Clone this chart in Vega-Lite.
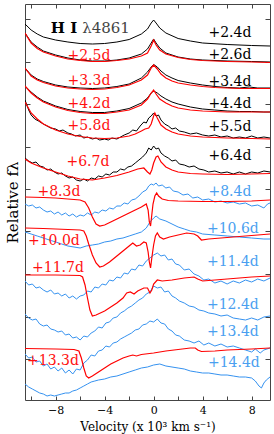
{
"$schema":"https://vega.github.io/schema/vega-lite/v6.json",
"width":245,"height":396,
"autosize":{"type":"none"},
"padding":{"left":25,"top":4,"right":4,"bottom":34},
"config":{"view":{"stroke":"#444","strokeWidth":1},"font":"DejaVu Serif",
 "axis":{"grid":false,"domain":false,"tickColor":"#444","labelFont":"DejaVu Serif","titleFont":"DejaVu Serif","titleFontWeight":"normal","labelColor":"#000","titleColor":"#000"}},
"datasets":{
"black":[
{"s":"+2.4d","v":-10.5,"f":37.6},{"s":"+2.4d","v":-10,"f":37.0},{"s":"+2.4d","v":-9.5,"f":36.6},{"s":"+2.4d","v":-9,"f":36.3},{"s":"+2.4d","v":-8,"f":36.0},{"s":"+2.4d","v":-7,"f":35.8},{"s":"+2.4d","v":-6,"f":35.65},{"s":"+2.4d","v":-5,"f":35.6},{"s":"+2.4d","v":-4,"f":35.65},{"s":"+2.4d","v":-3,"f":35.8},{"s":"+2.4d","v":-2,"f":36.05},{"s":"+2.4d","v":-1,"f":36.6},{"s":"+2.4d","v":-0.5,"f":37.1},{"s":"+2.4d","v":-0.2,"f":37.7},{"s":"+2.4d","v":0,"f":38.0},{"s":"+2.4d","v":0.2,"f":37.7},{"s":"+2.4d","v":0.5,"f":37.2},{"s":"+2.4d","v":1,"f":36.7},{"s":"+2.4d","v":2,"f":36.15},{"s":"+2.4d","v":3,"f":35.9},{"s":"+2.4d","v":4,"f":35.7},{"s":"+2.4d","v":6,"f":35.55},{"s":"+2.4d","v":8,"f":35.45},{"s":"+2.4d","v":9.5,"f":35.4},
{"s":"+2.6d","v":-10.5,"f":36.7},{"s":"+2.6d","v":-10,"f":35.8},{"s":"+2.6d","v":-9.5,"f":35.3},{"s":"+2.6d","v":-9,"f":34.9},{"s":"+2.6d","v":-8,"f":34.5},{"s":"+2.6d","v":-7,"f":34.2},{"s":"+2.6d","v":-6,"f":34.0},{"s":"+2.6d","v":-5,"f":33.9},{"s":"+2.6d","v":-4,"f":33.9},{"s":"+2.6d","v":-3,"f":34.0},{"s":"+2.6d","v":-2,"f":34.2},{"s":"+2.6d","v":-1,"f":34.6},{"s":"+2.6d","v":-0.5,"f":35.1},{"s":"+2.6d","v":-0.2,"f":35.7},{"s":"+2.6d","v":0,"f":36.1},{"s":"+2.6d","v":0.2,"f":35.7},{"s":"+2.6d","v":0.5,"f":35.2},{"s":"+2.6d","v":1,"f":34.7},{"s":"+2.6d","v":2,"f":34.3},{"s":"+2.6d","v":3,"f":34.1},{"s":"+2.6d","v":4,"f":34.0},{"s":"+2.6d","v":6,"f":33.9},{"s":"+2.6d","v":8,"f":33.85},{"s":"+2.6d","v":9.5,"f":33.8},
{"s":"+3.4d","v":-10.5,"f":33.2},{"s":"+3.4d","v":-10,"f":32.5},{"s":"+3.4d","v":-9.5,"f":32.1},{"s":"+3.4d","v":-9,"f":31.85},{"s":"+3.4d","v":-8,"f":31.5},{"s":"+3.4d","v":-7,"f":31.3},{"s":"+3.4d","v":-6,"f":31.2},{"s":"+3.4d","v":-5,"f":31.15},{"s":"+3.4d","v":-4,"f":31.2},{"s":"+3.4d","v":-3,"f":31.35},{"s":"+3.4d","v":-2,"f":31.6},{"s":"+3.4d","v":-1,"f":32.2},{"s":"+3.4d","v":-0.5,"f":32.8},{"s":"+3.4d","v":-0.2,"f":33.3},{"s":"+3.4d","v":0,"f":33.55},{"s":"+3.4d","v":0.3,"f":33.3},{"s":"+3.4d","v":0.6,"f":32.9},{"s":"+3.4d","v":1,"f":32.5},{"s":"+3.4d","v":1.5,"f":32.2},{"s":"+3.4d","v":2,"f":31.95},{"s":"+3.4d","v":3,"f":31.7},{"s":"+3.4d","v":4,"f":31.5},{"s":"+3.4d","v":5,"f":31.35},{"s":"+3.4d","v":6,"f":31.25},{"s":"+3.4d","v":7,"f":31.2},{"s":"+3.4d","v":7.8,"f":31.3},{"s":"+3.4d","v":8.5,"f":31.2},{"s":"+3.4d","v":9.5,"f":31.2},
{"s":"+4.4d","v":-10.5,"f":31.4},{"s":"+4.4d","v":-10,"f":30.8},{"s":"+4.4d","v":-9.5,"f":30.3},{"s":"+4.4d","v":-9,"f":29.9},{"s":"+4.4d","v":-8,"f":29.4},{"s":"+4.4d","v":-7,"f":29.05},{"s":"+4.4d","v":-6,"f":28.85},{"s":"+4.4d","v":-5,"f":28.75},{"s":"+4.4d","v":-4,"f":28.75},{"s":"+4.4d","v":-3,"f":28.9},{"s":"+4.4d","v":-2,"f":29.15},{"s":"+4.4d","v":-1,"f":29.7},{"s":"+4.4d","v":-0.5,"f":30.2},{"s":"+4.4d","v":-0.2,"f":30.7},{"s":"+4.4d","v":0,"f":30.9},{"s":"+4.4d","v":0.3,"f":30.7},{"s":"+4.4d","v":0.6,"f":30.4},{"s":"+4.4d","v":1,"f":30.1},{"s":"+4.4d","v":1.5,"f":29.8},{"s":"+4.4d","v":2,"f":29.6},{"s":"+4.4d","v":3,"f":29.3},{"s":"+4.4d","v":4,"f":29.1},{"s":"+4.4d","v":5,"f":29.0},{"s":"+4.4d","v":6,"f":28.9},{"s":"+4.4d","v":7,"f":28.85},{"s":"+4.4d","v":8,"f":28.85},{"s":"+4.4d","v":9,"f":28.8},{"s":"+4.4d","v":9.5,"f":28.8},
{"s":"+5.5d","v":-10.5,"f":30.0},{"s":"+5.5d","v":-10.2,"f":29.0},{"s":"+5.5d","v":-10,"f":28.5},{"s":"+5.5d","v":-9.7,"f":28.1},{"s":"+5.5d","v":-9.4,"f":27.9},{"s":"+5.5d","v":-9,"f":27.6},{"s":"+5.5d","v":-8.7,"f":27.4},{"s":"+5.5d","v":-8.4,"f":27.2},{"s":"+5.5d","v":-8,"f":27.1},{"s":"+5.5d","v":-7.7,"f":26.9},{"s":"+5.5d","v":-7.4,"f":27.0},{"s":"+5.5d","v":-7,"f":26.7},{"s":"+5.5d","v":-6.7,"f":26.6},{"s":"+5.5d","v":-6.4,"f":26.4},{"s":"+5.5d","v":-6,"f":26.5},{"s":"+5.5d","v":-5.7,"f":26.2},{"s":"+5.5d","v":-5.4,"f":26.3},{"s":"+5.5d","v":-5,"f":26.1},{"s":"+5.5d","v":-4.7,"f":26.2},{"s":"+5.5d","v":-4.4,"f":26.0},{"s":"+5.5d","v":-4,"f":26.1},{"s":"+5.5d","v":-3.7,"f":26.0},{"s":"+5.5d","v":-3.4,"f":26.2},{"s":"+5.5d","v":-3,"f":26.1},{"s":"+5.5d","v":-2.7,"f":26.3},{"s":"+5.5d","v":-2.4,"f":26.5},{"s":"+5.5d","v":-2,"f":26.7},{"s":"+5.5d","v":-1.7,"f":27.0},{"s":"+5.5d","v":-1.4,"f":26.9},{"s":"+5.5d","v":-1.1,"f":27.4},{"s":"+5.5d","v":-0.8,"f":27.8},{"s":"+5.5d","v":-0.6,"f":27.7},{"s":"+5.5d","v":-0.4,"f":28.2},{"s":"+5.5d","v":-0.2,"f":28.4},{"s":"+5.5d","v":0,"f":28.7},{"s":"+5.5d","v":0.2,"f":28.4},{"s":"+5.5d","v":0.4,"f":28.5},{"s":"+5.5d","v":0.6,"f":28.0},{"s":"+5.5d","v":0.9,"f":27.6},{"s":"+5.5d","v":1.2,"f":27.4},{"s":"+5.5d","v":1.5,"f":27.1},{"s":"+5.5d","v":1.8,"f":27.2},{"s":"+5.5d","v":2.1,"f":26.9},{"s":"+5.5d","v":2.5,"f":26.8},{"s":"+5.5d","v":3,"f":26.6},{"s":"+5.5d","v":3.5,"f":26.7},{"s":"+5.5d","v":4,"f":26.5},{"s":"+5.5d","v":4.5,"f":26.4},{"s":"+5.5d","v":5,"f":26.5},{"s":"+5.5d","v":5.5,"f":26.3},{"s":"+5.5d","v":6,"f":26.4},{"s":"+5.5d","v":6.5,"f":26.2},{"s":"+5.5d","v":7,"f":26.3},{"s":"+5.5d","v":7.5,"f":26.2},{"s":"+5.5d","v":8,"f":26.4},{"s":"+5.5d","v":8.5,"f":26.2},{"s":"+5.5d","v":9,"f":26.3},{"s":"+5.5d","v":9.5,"f":26.2},
{"s":"+6.4d","v":-10.5,"f":24.2},{"s":"+6.4d","v":-10.2,"f":23.9},{"s":"+6.4d","v":-9.9,"f":23.7},{"s":"+6.4d","v":-9.6,"f":23.8},{"s":"+6.4d","v":-9.3,"f":23.4},{"s":"+6.4d","v":-9,"f":23.3},{"s":"+6.4d","v":-8.7,"f":23.0},{"s":"+6.4d","v":-8.4,"f":23.1},{"s":"+6.4d","v":-8.1,"f":22.8},{"s":"+6.4d","v":-7.8,"f":22.6},{"s":"+6.4d","v":-7.5,"f":22.7},{"s":"+6.4d","v":-7.2,"f":22.4},{"s":"+6.4d","v":-6.9,"f":22.2},{"s":"+6.4d","v":-6.6,"f":22.3},{"s":"+6.4d","v":-6.3,"f":22.0},{"s":"+6.4d","v":-6,"f":21.9},{"s":"+6.4d","v":-5.7,"f":22.1},{"s":"+6.4d","v":-5.4,"f":21.9},{"s":"+6.4d","v":-5.1,"f":22.2},{"s":"+6.4d","v":-4.8,"f":22.1},{"s":"+6.4d","v":-4.5,"f":22.4},{"s":"+6.4d","v":-4.2,"f":22.3},{"s":"+6.4d","v":-3.9,"f":22.6},{"s":"+6.4d","v":-3.6,"f":22.5},{"s":"+6.4d","v":-3.3,"f":22.8},{"s":"+6.4d","v":-3,"f":22.8},{"s":"+6.4d","v":-2.7,"f":23.1},{"s":"+6.4d","v":-2.4,"f":23.0},{"s":"+6.4d","v":-2.1,"f":23.3},{"s":"+6.4d","v":-1.8,"f":23.4},{"s":"+6.4d","v":-1.5,"f":23.7},{"s":"+6.4d","v":-1.2,"f":24.0},{"s":"+6.4d","v":-0.9,"f":24.3},{"s":"+6.4d","v":-0.6,"f":24.7},{"s":"+6.4d","v":-0.4,"f":25.2},{"s":"+6.4d","v":-0.2,"f":25.0},{"s":"+6.4d","v":0,"f":25.4},{"s":"+6.4d","v":0.2,"f":25.1},{"s":"+6.4d","v":0.4,"f":25.2},{"s":"+6.4d","v":0.6,"f":24.7},{"s":"+6.4d","v":0.9,"f":24.4},{"s":"+6.4d","v":1.2,"f":24.2},{"s":"+6.4d","v":1.5,"f":23.9},{"s":"+6.4d","v":1.8,"f":24.0},{"s":"+6.4d","v":2.1,"f":23.6},{"s":"+6.4d","v":2.5,"f":23.5},{"s":"+6.4d","v":2.9,"f":23.3},{"s":"+6.4d","v":3.3,"f":23.4},{"s":"+6.4d","v":3.7,"f":23.1},{"s":"+6.4d","v":4.1,"f":23.0},{"s":"+6.4d","v":4.5,"f":22.8},{"s":"+6.4d","v":5,"f":22.9},{"s":"+6.4d","v":5.5,"f":22.7},{"s":"+6.4d","v":6,"f":22.8},{"s":"+6.4d","v":6.5,"f":22.6},{"s":"+6.4d","v":7,"f":22.8},{"s":"+6.4d","v":7.5,"f":22.6},{"s":"+6.4d","v":8,"f":22.8},{"s":"+6.4d","v":8.5,"f":22.7},{"s":"+6.4d","v":9,"f":22.9},{"s":"+6.4d","v":9.5,"f":22.8}
],
"red":[
{"s":"+2.5d","v":-10.5,"f":36.7},{"s":"+2.5d","v":-10,"f":35.7},{"s":"+2.5d","v":-9.5,"f":35.15},{"s":"+2.5d","v":-9,"f":34.8},{"s":"+2.5d","v":-8,"f":34.4},{"s":"+2.5d","v":-7,"f":34.1},{"s":"+2.5d","v":-6,"f":33.95},{"s":"+2.5d","v":-5,"f":33.85},{"s":"+2.5d","v":-4,"f":33.85},{"s":"+2.5d","v":-3,"f":33.95},{"s":"+2.5d","v":-2,"f":34.1},{"s":"+2.5d","v":-1,"f":34.4},{"s":"+2.5d","v":-0.5,"f":34.7},{"s":"+2.5d","v":-0.2,"f":35.4},{"s":"+2.5d","v":0,"f":36.0},{"s":"+2.5d","v":0.2,"f":35.5},{"s":"+2.5d","v":0.5,"f":35.0},{"s":"+2.5d","v":1,"f":34.6},{"s":"+2.5d","v":2,"f":34.25},{"s":"+2.5d","v":3,"f":34.05},{"s":"+2.5d","v":4,"f":33.95},{"s":"+2.5d","v":6,"f":33.85},{"s":"+2.5d","v":8,"f":33.8},{"s":"+2.5d","v":9.5,"f":33.75},
{"s":"+3.3d","v":-10.5,"f":33.2},{"s":"+3.3d","v":-10,"f":32.4},{"s":"+3.3d","v":-9.5,"f":32.0},{"s":"+3.3d","v":-9,"f":31.75},{"s":"+3.3d","v":-8,"f":31.4},{"s":"+3.3d","v":-7,"f":31.2},{"s":"+3.3d","v":-6,"f":31.1},{"s":"+3.3d","v":-5,"f":31.05},{"s":"+3.3d","v":-4,"f":31.1},{"s":"+3.3d","v":-3,"f":31.25},{"s":"+3.3d","v":-2,"f":31.5},{"s":"+3.3d","v":-1,"f":32.0},{"s":"+3.3d","v":-0.5,"f":32.5},{"s":"+3.3d","v":-0.2,"f":33.2},{"s":"+3.3d","v":0,"f":33.5},{"s":"+3.3d","v":0.3,"f":33.1},{"s":"+3.3d","v":0.6,"f":32.6},{"s":"+3.3d","v":1,"f":32.2},{"s":"+3.3d","v":1.5,"f":31.9},{"s":"+3.3d","v":2,"f":31.7},{"s":"+3.3d","v":3,"f":31.5},{"s":"+3.3d","v":4,"f":31.35},{"s":"+3.3d","v":5,"f":31.25},{"s":"+3.3d","v":6,"f":31.2},{"s":"+3.3d","v":7,"f":31.15},{"s":"+3.3d","v":9.5,"f":31.15},
{"s":"+4.2d","v":-10.5,"f":31.4},{"s":"+4.2d","v":-10,"f":30.7},{"s":"+4.2d","v":-9.5,"f":30.2},{"s":"+4.2d","v":-9,"f":29.8},{"s":"+4.2d","v":-8,"f":29.3},{"s":"+4.2d","v":-7,"f":28.95},{"s":"+4.2d","v":-6,"f":28.75},{"s":"+4.2d","v":-5,"f":28.65},{"s":"+4.2d","v":-4,"f":28.65},{"s":"+4.2d","v":-3,"f":28.8},{"s":"+4.2d","v":-2,"f":29.0},{"s":"+4.2d","v":-1,"f":29.5},{"s":"+4.2d","v":-0.5,"f":30.1},{"s":"+4.2d","v":-0.2,"f":30.7},{"s":"+4.2d","v":0,"f":31.0},{"s":"+4.2d","v":0.2,"f":30.6},{"s":"+4.2d","v":0.5,"f":30.1},{"s":"+4.2d","v":1,"f":29.7},{"s":"+4.2d","v":1.5,"f":29.4},{"s":"+4.2d","v":2,"f":29.2},{"s":"+4.2d","v":3,"f":29.0},{"s":"+4.2d","v":4,"f":28.9},{"s":"+4.2d","v":5,"f":28.85},{"s":"+4.2d","v":6,"f":28.8},{"s":"+4.2d","v":9.5,"f":28.8},
{"s":"+5.8d","v":-10.5,"f":29.8},{"s":"+5.8d","v":-10,"f":28.7},{"s":"+5.8d","v":-9.5,"f":28.1},{"s":"+5.8d","v":-9,"f":27.6},{"s":"+5.8d","v":-8,"f":27.0},{"s":"+5.8d","v":-7,"f":26.6},{"s":"+5.8d","v":-6,"f":26.35},{"s":"+5.8d","v":-5,"f":26.2},{"s":"+5.8d","v":-4,"f":26.15},{"s":"+5.8d","v":-3,"f":26.2},{"s":"+5.8d","v":-2,"f":26.4},{"s":"+5.8d","v":-1.5,"f":26.6},{"s":"+5.8d","v":-1,"f":26.9},{"s":"+5.8d","v":-0.7,"f":27.1},{"s":"+5.8d","v":-0.4,"f":27.2},{"s":"+5.8d","v":-0.2,"f":27.6},{"s":"+5.8d","v":0,"f":28.4},{"s":"+5.8d","v":0.1,"f":28.7},{"s":"+5.8d","v":0.3,"f":28.2},{"s":"+5.8d","v":0.6,"f":27.5},{"s":"+5.8d","v":1,"f":27.1},{"s":"+5.8d","v":1.5,"f":26.8},{"s":"+5.8d","v":2,"f":26.6},{"s":"+5.8d","v":3,"f":26.4},{"s":"+5.8d","v":4,"f":26.3},{"s":"+5.8d","v":6,"f":26.2},{"s":"+5.8d","v":8,"f":26.15},{"s":"+5.8d","v":9.5,"f":26.1},
{"s":"+6.7d","v":-10.5,"f":24.1},{"s":"+6.7d","v":-10,"f":23.7},{"s":"+6.7d","v":-9,"f":23.2},{"s":"+6.7d","v":-8,"f":22.8},{"s":"+6.7d","v":-7,"f":22.4},{"s":"+6.7d","v":-6,"f":22.1},{"s":"+6.7d","v":-5,"f":22.0},{"s":"+6.7d","v":-4,"f":22.2},{"s":"+6.7d","v":-3,"f":22.45},{"s":"+6.7d","v":-2,"f":22.8},{"s":"+6.7d","v":-1.3,"f":23.1},{"s":"+6.7d","v":-0.8,"f":23.2},{"s":"+6.7d","v":-0.5,"f":22.8},{"s":"+6.7d","v":-0.3,"f":22.6},{"s":"+6.7d","v":-0.15,"f":23.0},{"s":"+6.7d","v":0,"f":23.7},{"s":"+6.7d","v":0.2,"f":24.3},{"s":"+6.7d","v":0.35,"f":24.4},{"s":"+6.7d","v":0.6,"f":23.8},{"s":"+6.7d","v":1,"f":23.3},{"s":"+6.7d","v":1.5,"f":23.0},{"s":"+6.7d","v":2,"f":22.8},{"s":"+6.7d","v":3,"f":22.65},{"s":"+6.7d","v":4,"f":22.6},{"s":"+6.7d","v":6,"f":22.55},{"s":"+6.7d","v":8,"f":22.6},{"s":"+6.7d","v":9.5,"f":22.65},
{"s":"+8.3d","v":-10.5,"f":20.3},{"s":"+8.3d","v":-9,"f":20.25},{"s":"+8.3d","v":-8,"f":20.2},{"s":"+8.3d","v":-7,"f":20.1},{"s":"+8.3d","v":-6,"f":20.0},{"s":"+8.3d","v":-5.6,"f":19.8},{"s":"+8.3d","v":-5.3,"f":19.2},{"s":"+8.3d","v":-5.0,"f":18.3},{"s":"+8.3d","v":-4.7,"f":17.6},{"s":"+8.3d","v":-4.4,"f":17.4},{"s":"+8.3d","v":-4,"f":17.5},{"s":"+8.3d","v":-3.5,"f":17.8},{"s":"+8.3d","v":-3,"f":18.1},{"s":"+8.3d","v":-2.5,"f":18.4},{"s":"+8.3d","v":-2,"f":18.7},{"s":"+8.3d","v":-1.5,"f":19.0},{"s":"+8.3d","v":-1,"f":19.3},{"s":"+8.3d","v":-0.6,"f":19.6},{"s":"+8.3d","v":-0.45,"f":19.0},{"s":"+8.3d","v":-0.35,"f":17.8},{"s":"+8.3d","v":-0.25,"f":17.4},{"s":"+8.3d","v":-0.15,"f":18.5},{"s":"+8.3d","v":-0.05,"f":19.6},{"s":"+8.3d","v":0.1,"f":20.4},{"s":"+8.3d","v":0.25,"f":20.7},{"s":"+8.3d","v":0.4,"f":20.4},{"s":"+8.3d","v":0.7,"f":20.1},{"s":"+8.3d","v":1.2,"f":19.95},{"s":"+8.3d","v":2,"f":19.9},{"s":"+8.3d","v":4,"f":19.85},{"s":"+8.3d","v":6,"f":19.85},{"s":"+8.3d","v":8,"f":19.9},{"s":"+8.3d","v":9.5,"f":20.0},
{"s":"+10.0d","v":-10.5,"f":17.2},{"s":"+10.0d","v":-9,"f":17.15},{"s":"+10.0d","v":-8,"f":17.1},{"s":"+10.0d","v":-7,"f":17.05},{"s":"+10.0d","v":-6,"f":17.0},{"s":"+10.0d","v":-5.7,"f":16.9},{"s":"+10.0d","v":-5.5,"f":16.4},{"s":"+10.0d","v":-5.3,"f":15.6},{"s":"+10.0d","v":-5.0,"f":14.5},{"s":"+10.0d","v":-4.7,"f":13.7},{"s":"+10.0d","v":-4.4,"f":13.3},{"s":"+10.0d","v":-4.1,"f":13.4},{"s":"+10.0d","v":-3.6,"f":13.8},{"s":"+10.0d","v":-3,"f":14.4},{"s":"+10.0d","v":-2.5,"f":14.9},{"s":"+10.0d","v":-2,"f":15.4},{"s":"+10.0d","v":-1.7,"f":15.7},{"s":"+10.0d","v":-1.4,"f":15.4},{"s":"+10.0d","v":-1.1,"f":15.5},{"s":"+10.0d","v":-0.8,"f":15.8},{"s":"+10.0d","v":-0.6,"f":15.7},{"s":"+10.0d","v":-0.45,"f":14.8},{"s":"+10.0d","v":-0.35,"f":13.8},{"s":"+10.0d","v":-0.25,"f":13.2},{"s":"+10.0d","v":-0.15,"f":14.2},{"s":"+10.0d","v":0,"f":15.5},{"s":"+10.0d","v":0.15,"f":16.4},{"s":"+10.0d","v":0.3,"f":16.7},{"s":"+10.0d","v":0.5,"f":16.3},{"s":"+10.0d","v":0.8,"f":16.1},{"s":"+10.0d","v":1.3,"f":16.3},{"s":"+10.0d","v":2,"f":16.5},{"s":"+10.0d","v":2.7,"f":16.7},{"s":"+10.0d","v":3.3,"f":16.6},{"s":"+10.0d","v":3.6,"f":16.4},{"s":"+10.0d","v":3.9,"f":16.0},{"s":"+10.0d","v":4.5,"f":16.1},{"s":"+10.0d","v":5.5,"f":16.2},{"s":"+10.0d","v":6.5,"f":16.3},{"s":"+10.0d","v":7.5,"f":16.4},{"s":"+10.0d","v":8.5,"f":16.5},{"s":"+10.0d","v":9.5,"f":16.6},
{"s":"+11.7d","v":-10.5,"f":12.5},{"s":"+11.7d","v":-8,"f":12.5},{"s":"+11.7d","v":-6,"f":12.45},{"s":"+11.7d","v":-5.8,"f":12.3},{"s":"+11.7d","v":-5.6,"f":11.5},{"s":"+11.7d","v":-5.4,"f":10.2},{"s":"+11.7d","v":-5.2,"f":9.0},{"s":"+11.7d","v":-5.0,"f":8.4},{"s":"+11.7d","v":-4.7,"f":8.5},{"s":"+11.7d","v":-4,"f":8.9},{"s":"+11.7d","v":-3,"f":9.7},{"s":"+11.7d","v":-2.5,"f":10.2},{"s":"+11.7d","v":-2.2,"f":10.7},{"s":"+11.7d","v":-1.9,"f":10.8},{"s":"+11.7d","v":-1.6,"f":10.6},{"s":"+11.7d","v":-1.3,"f":10.9},{"s":"+11.7d","v":-0.8,"f":11.2},{"s":"+11.7d","v":-0.5,"f":11.2},{"s":"+11.7d","v":-0.3,"f":10.7},{"s":"+11.7d","v":-0.15,"f":11.0},{"s":"+11.7d","v":0,"f":11.6},{"s":"+11.7d","v":0.3,"f":12.0},{"s":"+11.7d","v":0.7,"f":11.9},{"s":"+11.7d","v":1.5,"f":12.0},{"s":"+11.7d","v":2.5,"f":12.2},{"s":"+11.7d","v":3.3,"f":12.3},{"s":"+11.7d","v":3.6,"f":12.1},{"s":"+11.7d","v":4,"f":11.9},{"s":"+11.7d","v":5,"f":12.0},{"s":"+11.7d","v":6,"f":12.1},{"s":"+11.7d","v":7,"f":12.2},{"s":"+11.7d","v":8,"f":12.3},{"s":"+11.7d","v":9.5,"f":12.4},
{"s":"+13.3d","v":-10.5,"f":5.15},{"s":"+13.3d","v":-8,"f":5.1},{"s":"+13.3d","v":-6.5,"f":5.05},{"s":"+13.3d","v":-6.1,"f":4.9},{"s":"+13.3d","v":-5.9,"f":4.2},{"s":"+13.3d","v":-5.7,"f":3.2},{"s":"+13.3d","v":-5.5,"f":2.4},{"s":"+13.3d","v":-5.3,"f":2.2},{"s":"+13.3d","v":-5,"f":2.4},{"s":"+13.3d","v":-4.5,"f":2.8},{"s":"+13.3d","v":-4,"f":3.2},{"s":"+13.3d","v":-3.5,"f":3.6},{"s":"+13.3d","v":-3,"f":3.9},{"s":"+13.3d","v":-2.5,"f":4.2},{"s":"+13.3d","v":-2,"f":4.4},{"s":"+13.3d","v":-1.7,"f":4.5},{"s":"+13.3d","v":-1.4,"f":4.4},{"s":"+13.3d","v":-1,"f":4.55},{"s":"+13.3d","v":0,"f":4.7},{"s":"+13.3d","v":1,"f":4.9},{"s":"+13.3d","v":2,"f":5.05},{"s":"+13.3d","v":3,"f":5.2},{"s":"+13.3d","v":3.4,"f":5.2},{"s":"+13.3d","v":3.6,"f":5.0},{"s":"+13.3d","v":3.9,"f":4.85},{"s":"+13.3d","v":5,"f":4.9},{"s":"+13.3d","v":6,"f":5.0},{"s":"+13.3d","v":7,"f":5.05},{"s":"+13.3d","v":8,"f":5.1},{"s":"+13.3d","v":9.5,"f":5.2}
],
"blue":[
{"s":"+8.4d","v":-10.5,"f":19.6},{"s":"+8.4d","v":-10.2,"f":19.4},{"s":"+8.4d","v":-9.9,"f":19.5},{"s":"+8.4d","v":-9.6,"f":19.2},{"s":"+8.4d","v":-9.3,"f":19.3},{"s":"+8.4d","v":-9,"f":19.0},{"s":"+8.4d","v":-8.7,"f":18.8},{"s":"+8.4d","v":-8.4,"f":18.9},{"s":"+8.4d","v":-8.1,"f":18.6},{"s":"+8.4d","v":-7.8,"f":18.8},{"s":"+8.4d","v":-7.5,"f":18.5},{"s":"+8.4d","v":-7.2,"f":18.7},{"s":"+8.4d","v":-6.9,"f":18.4},{"s":"+8.4d","v":-6.6,"f":18.6},{"s":"+8.4d","v":-6.3,"f":18.3},{"s":"+8.4d","v":-6,"f":18.5},{"s":"+8.4d","v":-5.7,"f":18.4},{"s":"+8.4d","v":-5.4,"f":18.7},{"s":"+8.4d","v":-5.1,"f":18.5},{"s":"+8.4d","v":-4.8,"f":18.8},{"s":"+8.4d","v":-4.5,"f":18.7},{"s":"+8.4d","v":-4.2,"f":19.0},{"s":"+8.4d","v":-3.9,"f":18.9},{"s":"+8.4d","v":-3.6,"f":19.2},{"s":"+8.4d","v":-3.3,"f":19.1},{"s":"+8.4d","v":-3,"f":19.4},{"s":"+8.4d","v":-2.7,"f":19.4},{"s":"+8.4d","v":-2.4,"f":19.7},{"s":"+8.4d","v":-2.1,"f":19.6},{"s":"+8.4d","v":-1.8,"f":20.0},{"s":"+8.4d","v":-1.5,"f":20.1},{"s":"+8.4d","v":-1.2,"f":20.4},{"s":"+8.4d","v":-0.9,"f":20.8},{"s":"+8.4d","v":-0.6,"f":21.0},{"s":"+8.4d","v":-0.4,"f":21.4},{"s":"+8.4d","v":-0.2,"f":21.6},{"s":"+8.4d","v":0,"f":21.5},{"s":"+8.4d","v":0.2,"f":21.7},{"s":"+8.4d","v":0.4,"f":21.4},{"s":"+8.4d","v":0.7,"f":21.5},{"s":"+8.4d","v":1,"f":21.2},{"s":"+8.4d","v":1.3,"f":21.3},{"s":"+8.4d","v":1.6,"f":20.9},{"s":"+8.4d","v":2,"f":20.8},{"s":"+8.4d","v":2.4,"f":20.5},{"s":"+8.4d","v":2.8,"f":20.6},{"s":"+8.4d","v":3.2,"f":20.2},{"s":"+8.4d","v":3.6,"f":20.3},{"s":"+8.4d","v":4,"f":20.0},{"s":"+8.4d","v":4.5,"f":20.1},{"s":"+8.4d","v":5,"f":19.8},{"s":"+8.4d","v":5.5,"f":19.9},{"s":"+8.4d","v":6,"f":19.7},{"s":"+8.4d","v":6.5,"f":19.8},{"s":"+8.4d","v":7,"f":19.6},{"s":"+8.4d","v":7.5,"f":19.7},{"s":"+8.4d","v":8,"f":19.4},{"s":"+8.4d","v":8.5,"f":19.5},{"s":"+8.4d","v":9,"f":19.2},{"s":"+8.4d","v":9.3,"f":19.6},{"s":"+8.4d","v":9.5,"f":19.7},
{"s":"+10.6d","v":-10.5,"f":16.8},{"s":"+10.6d","v":-10,"f":16.6},{"s":"+10.6d","v":-9.5,"f":16.4},{"s":"+10.6d","v":-9,"f":16.2},{"s":"+10.6d","v":-8.5,"f":16.0},{"s":"+10.6d","v":-8,"f":15.8},{"s":"+10.6d","v":-7.5,"f":15.6},{"s":"+10.6d","v":-7,"f":15.4},{"s":"+10.6d","v":-6.5,"f":15.3},{"s":"+10.6d","v":-6,"f":15.2},{"s":"+10.6d","v":-5.5,"f":15.4},{"s":"+10.6d","v":-5,"f":15.5},{"s":"+10.6d","v":-4.5,"f":15.6},{"s":"+10.6d","v":-4,"f":15.8},{"s":"+10.6d","v":-3.5,"f":15.9},{"s":"+10.6d","v":-3,"f":16.1},{"s":"+10.6d","v":-2.5,"f":16.2},{"s":"+10.6d","v":-2,"f":16.4},{"s":"+10.6d","v":-1.5,"f":16.6},{"s":"+10.6d","v":-1,"f":16.8},{"s":"+10.6d","v":-0.6,"f":17.2},{"s":"+10.6d","v":-0.3,"f":17.8},{"s":"+10.6d","v":0,"f":18.2},{"s":"+10.6d","v":0.2,"f":18.4},{"s":"+10.6d","v":0.5,"f":18.1},{"s":"+10.6d","v":1,"f":17.9},{"s":"+10.6d","v":1.5,"f":17.6},{"s":"+10.6d","v":2,"f":17.3},{"s":"+10.6d","v":2.5,"f":17.1},{"s":"+10.6d","v":3,"f":16.9},{"s":"+10.6d","v":3.5,"f":16.8},{"s":"+10.6d","v":4,"f":16.6},{"s":"+10.6d","v":5,"f":16.5},{"s":"+10.6d","v":6,"f":16.4},{"s":"+10.6d","v":7,"f":16.3},{"s":"+10.6d","v":8,"f":16.2},{"s":"+10.6d","v":9,"f":16.1},{"s":"+10.6d","v":9.5,"f":16.1},
{"s":"+11.4d","v":-10.5,"f":11.9},{"s":"+11.4d","v":-10.2,"f":11.5},{"s":"+11.4d","v":-9.9,"f":11.6},{"s":"+11.4d","v":-9.6,"f":11.2},{"s":"+11.4d","v":-9.3,"f":11.3},{"s":"+11.4d","v":-9,"f":11.0},{"s":"+11.4d","v":-8.7,"f":10.8},{"s":"+11.4d","v":-8.4,"f":11.0},{"s":"+11.4d","v":-8.1,"f":10.6},{"s":"+11.4d","v":-7.8,"f":10.7},{"s":"+11.4d","v":-7.5,"f":10.4},{"s":"+11.4d","v":-7.2,"f":10.6},{"s":"+11.4d","v":-6.9,"f":10.2},{"s":"+11.4d","v":-6.6,"f":10.4},{"s":"+11.4d","v":-6.3,"f":10.1},{"s":"+11.4d","v":-6,"f":10.4},{"s":"+11.4d","v":-5.7,"f":10.5},{"s":"+11.4d","v":-5.4,"f":10.9},{"s":"+11.4d","v":-5.1,"f":10.8},{"s":"+11.4d","v":-4.8,"f":11.3},{"s":"+11.4d","v":-4.5,"f":11.2},{"s":"+11.4d","v":-4.2,"f":11.6},{"s":"+11.4d","v":-3.9,"f":11.5},{"s":"+11.4d","v":-3.6,"f":12.0},{"s":"+11.4d","v":-3.3,"f":11.9},{"s":"+11.4d","v":-3,"f":12.3},{"s":"+11.4d","v":-2.7,"f":12.2},{"s":"+11.4d","v":-2.4,"f":12.7},{"s":"+11.4d","v":-2.1,"f":12.6},{"s":"+11.4d","v":-1.8,"f":13.1},{"s":"+11.4d","v":-1.5,"f":13.0},{"s":"+11.4d","v":-1.2,"f":13.5},{"s":"+11.4d","v":-0.9,"f":13.4},{"s":"+11.4d","v":-0.6,"f":13.9},{"s":"+11.4d","v":-0.3,"f":14.2},{"s":"+11.4d","v":0,"f":14.5},{"s":"+11.4d","v":0.3,"f":14.7},{"s":"+11.4d","v":0.6,"f":14.4},{"s":"+11.4d","v":0.9,"f":14.5},{"s":"+11.4d","v":1.2,"f":14.0},{"s":"+11.4d","v":1.5,"f":14.1},{"s":"+11.4d","v":1.8,"f":13.6},{"s":"+11.4d","v":2.1,"f":13.5},{"s":"+11.4d","v":2.5,"f":13.0},{"s":"+11.4d","v":2.9,"f":13.1},{"s":"+11.4d","v":3.3,"f":12.6},{"s":"+11.4d","v":3.7,"f":12.4},{"s":"+11.4d","v":4.1,"f":12.0},{"s":"+11.4d","v":4.5,"f":12.1},{"s":"+11.4d","v":5,"f":11.7},{"s":"+11.4d","v":5.5,"f":11.9},{"s":"+11.4d","v":6,"f":11.6},{"s":"+11.4d","v":6.5,"f":11.9},{"s":"+11.4d","v":7,"f":11.7},{"s":"+11.4d","v":7.5,"f":12.0},{"s":"+11.4d","v":8,"f":11.8},{"s":"+11.4d","v":8.5,"f":12.1},{"s":"+11.4d","v":9,"f":11.9},{"s":"+11.4d","v":9.5,"f":12.2},
{"s":"+12.4d","v":-10.5,"f":8.6},{"s":"+12.4d","v":-10.2,"f":8.2},{"s":"+12.4d","v":-9.9,"f":8.0},{"s":"+12.4d","v":-9.6,"f":8.1},{"s":"+12.4d","v":-9.3,"f":7.6},{"s":"+12.4d","v":-9,"f":7.4},{"s":"+12.4d","v":-8.7,"f":7.5},{"s":"+12.4d","v":-8.4,"f":7.1},{"s":"+12.4d","v":-8.1,"f":7.0},{"s":"+12.4d","v":-7.8,"f":6.8},{"s":"+12.4d","v":-7.5,"f":6.9},{"s":"+12.4d","v":-7.2,"f":6.5},{"s":"+12.4d","v":-6.9,"f":6.6},{"s":"+12.4d","v":-6.6,"f":6.2},{"s":"+12.4d","v":-6.3,"f":6.3},{"s":"+12.4d","v":-6,"f":6.0},{"s":"+12.4d","v":-5.7,"f":6.4},{"s":"+12.4d","v":-5.4,"f":6.3},{"s":"+12.4d","v":-5.1,"f":6.7},{"s":"+12.4d","v":-4.8,"f":6.9},{"s":"+12.4d","v":-4.5,"f":7.3},{"s":"+12.4d","v":-4.2,"f":7.2},{"s":"+12.4d","v":-3.9,"f":7.7},{"s":"+12.4d","v":-3.6,"f":7.8},{"s":"+12.4d","v":-3.3,"f":8.2},{"s":"+12.4d","v":-3,"f":8.3},{"s":"+12.4d","v":-2.7,"f":8.7},{"s":"+12.4d","v":-2.4,"f":8.9},{"s":"+12.4d","v":-2.1,"f":9.2},{"s":"+12.4d","v":-1.8,"f":9.4},{"s":"+12.4d","v":-1.5,"f":9.7},{"s":"+12.4d","v":-1.2,"f":10.0},{"s":"+12.4d","v":-0.9,"f":10.2},{"s":"+12.4d","v":-0.6,"f":10.6},{"s":"+12.4d","v":-0.3,"f":10.8},{"s":"+12.4d","v":0,"f":11.4},{"s":"+12.4d","v":0.3,"f":11.2},{"s":"+12.4d","v":0.6,"f":11.3},{"s":"+12.4d","v":0.9,"f":10.8},{"s":"+12.4d","v":1.2,"f":10.9},{"s":"+12.4d","v":1.5,"f":10.4},{"s":"+12.4d","v":1.8,"f":10.2},{"s":"+12.4d","v":2.1,"f":9.9},{"s":"+12.4d","v":2.5,"f":9.7},{"s":"+12.4d","v":2.9,"f":9.4},{"s":"+12.4d","v":3.3,"f":9.3},{"s":"+12.4d","v":3.7,"f":9.0},{"s":"+12.4d","v":4.1,"f":8.9},{"s":"+12.4d","v":4.5,"f":8.7},{"s":"+12.4d","v":5,"f":8.6},{"s":"+12.4d","v":5.5,"f":8.4},{"s":"+12.4d","v":6,"f":8.5},{"s":"+12.4d","v":6.5,"f":8.2},{"s":"+12.4d","v":7,"f":8.1},{"s":"+12.4d","v":7.5,"f":8.0},{"s":"+12.4d","v":8,"f":8.2},{"s":"+12.4d","v":8.5,"f":8.0},{"s":"+12.4d","v":9,"f":8.3},{"s":"+12.4d","v":9.5,"f":8.4},
{"s":"+13.4d","v":-10.5,"f":4.6},{"s":"+13.4d","v":-10.2,"f":4.2},{"s":"+13.4d","v":-9.9,"f":4.3},{"s":"+13.4d","v":-9.6,"f":3.8},{"s":"+13.4d","v":-9.3,"f":3.9},{"s":"+13.4d","v":-9,"f":3.4},{"s":"+13.4d","v":-8.7,"f":3.6},{"s":"+13.4d","v":-8.4,"f":3.1},{"s":"+13.4d","v":-8.1,"f":3.3},{"s":"+13.4d","v":-7.8,"f":2.9},{"s":"+13.4d","v":-7.5,"f":3.2},{"s":"+13.4d","v":-7.2,"f":2.7},{"s":"+13.4d","v":-6.9,"f":3.0},{"s":"+13.4d","v":-6.6,"f":2.6},{"s":"+13.4d","v":-6.3,"f":3.1},{"s":"+13.4d","v":-6,"f":3.0},{"s":"+13.4d","v":-5.7,"f":3.7},{"s":"+13.4d","v":-5.4,"f":4.0},{"s":"+13.4d","v":-5.1,"f":4.5},{"s":"+13.4d","v":-4.8,"f":4.4},{"s":"+13.4d","v":-4.5,"f":4.9},{"s":"+13.4d","v":-4.2,"f":5.0},{"s":"+13.4d","v":-3.9,"f":5.4},{"s":"+13.4d","v":-3.6,"f":5.3},{"s":"+13.4d","v":-3.3,"f":5.7},{"s":"+13.4d","v":-3,"f":5.8},{"s":"+13.4d","v":-2.7,"f":6.1},{"s":"+13.4d","v":-2.4,"f":6.3},{"s":"+13.4d","v":-2.1,"f":6.5},{"s":"+13.4d","v":-1.8,"f":6.7},{"s":"+13.4d","v":-1.5,"f":7.0},{"s":"+13.4d","v":-1.2,"f":7.1},{"s":"+13.4d","v":-0.9,"f":7.5},{"s":"+13.4d","v":-0.6,"f":7.6},{"s":"+13.4d","v":-0.3,"f":7.9},{"s":"+13.4d","v":0,"f":7.8},{"s":"+13.4d","v":0.3,"f":8.1},{"s":"+13.4d","v":0.6,"f":7.7},{"s":"+13.4d","v":0.9,"f":7.6},{"s":"+13.4d","v":1.2,"f":7.1},{"s":"+13.4d","v":1.5,"f":6.9},{"s":"+13.4d","v":1.8,"f":6.5},{"s":"+13.4d","v":2.1,"f":6.4},{"s":"+13.4d","v":2.5,"f":6.0},{"s":"+13.4d","v":2.9,"f":5.9},{"s":"+13.4d","v":3.3,"f":5.7},{"s":"+13.4d","v":3.7,"f":5.9},{"s":"+13.4d","v":4.1,"f":5.5},{"s":"+13.4d","v":4.5,"f":5.7},{"s":"+13.4d","v":5,"f":5.4},{"s":"+13.4d","v":5.5,"f":5.6},{"s":"+13.4d","v":6,"f":5.3},{"s":"+13.4d","v":6.5,"f":5.4},{"s":"+13.4d","v":7,"f":5.2},{"s":"+13.4d","v":7.5,"f":5.0},{"s":"+13.4d","v":8,"f":4.8},{"s":"+13.4d","v":8.3,"f":5.1},{"s":"+13.4d","v":8.7,"f":4.7},{"s":"+13.4d","v":9,"f":5.0},{"s":"+13.4d","v":9.5,"f":5.2},
{"s":"+14.4d","v":-10.5,"f":1.6},{"s":"+14.4d","v":-10.2,"f":1.3},{"s":"+14.4d","v":-9.9,"f":1.1},{"s":"+14.4d","v":-9.6,"f":0.9},{"s":"+14.4d","v":-9.3,"f":0.7},{"s":"+14.4d","v":-9,"f":0.6},{"s":"+14.4d","v":-8.7,"f":0.4},{"s":"+14.4d","v":-8.4,"f":0.5},{"s":"+14.4d","v":-8.1,"f":0.4},{"s":"+14.4d","v":-7.8,"f":0.5},{"s":"+14.4d","v":-7.5,"f":0.6},{"s":"+14.4d","v":-7.2,"f":0.7},{"s":"+14.4d","v":-6.9,"f":0.7},{"s":"+14.4d","v":-6.6,"f":0.9},{"s":"+14.4d","v":-6.3,"f":1.0},{"s":"+14.4d","v":-6,"f":1.2},{"s":"+14.4d","v":-5.7,"f":1.4},{"s":"+14.4d","v":-5.4,"f":1.6},{"s":"+14.4d","v":-5.1,"f":1.8},{"s":"+14.4d","v":-4.8,"f":1.9},{"s":"+14.4d","v":-4.5,"f":2.0},{"s":"+14.4d","v":-4,"f":2.1},{"s":"+14.4d","v":-3.5,"f":2.3},{"s":"+14.4d","v":-3,"f":2.4},{"s":"+14.4d","v":-2.5,"f":2.6},{"s":"+14.4d","v":-2,"f":2.8},{"s":"+14.4d","v":-1.5,"f":3.0},{"s":"+14.4d","v":-1,"f":3.2},{"s":"+14.4d","v":-0.5,"f":3.3},{"s":"+14.4d","v":0,"f":3.5},{"s":"+14.4d","v":0.5,"f":3.6},{"s":"+14.4d","v":1,"f":3.4},{"s":"+14.4d","v":1.5,"f":3.3},{"s":"+14.4d","v":2,"f":3.2},{"s":"+14.4d","v":2.5,"f":3.1},{"s":"+14.4d","v":3,"f":2.9},{"s":"+14.4d","v":3.5,"f":2.8},{"s":"+14.4d","v":4,"f":2.7},{"s":"+14.4d","v":4.5,"f":2.7},{"s":"+14.4d","v":5,"f":2.6},{"s":"+14.4d","v":5.5,"f":2.5},{"s":"+14.4d","v":6,"f":2.5},{"s":"+14.4d","v":6.5,"f":2.4},{"s":"+14.4d","v":7,"f":2.3},{"s":"+14.4d","v":7.5,"f":2.3},{"s":"+14.4d","v":8,"f":2.2},{"s":"+14.4d","v":8.3,"f":1.9},{"s":"+14.4d","v":8.6,"f":1.4},{"s":"+14.4d","v":8.8,"f":1.2},{"s":"+14.4d","v":9,"f":1.7},{"s":"+14.4d","v":9.2,"f":2.0},{"s":"+14.4d","v":9.5,"f":2.3}
],
"labels":[
{"t":"+2.4d","k":"black","v":6.23,"f":36.7},{"t":"+2.6d","k":"black","v":6.23,"f":34.5},{"t":"+3.4d","k":"black","v":6.23,"f":31.8},{"t":"+4.4d","k":"black","v":6.23,"f":29.6},{"t":"+5.5d","k":"black","v":6.23,"f":27.3},{"t":"+6.4d","k":"black","v":6.23,"f":24.4},
{"t":"+8.4d","k":"blue","v":6.23,"f":20.8},{"t":"+10.6d","k":"blue","v":6.47,"f":17.1},{"t":"+11.4d","k":"blue","v":6.47,"f":13.8},{"t":"+12.4d","k":"blue","v":6.47,"f":9.5},{"t":"+13.4d","k":"blue","v":6.47,"f":6.8},{"t":"+14.4d","k":"blue","v":6.55,"f":3.7},
{"t":"+2.5d","k":"red","v":-5.28,"f":34.4},{"t":"+3.3d","k":"red","v":-5.28,"f":31.9},{"t":"+4.2d","k":"red","v":-5.28,"f":29.6},{"t":"+5.8d","k":"red","v":-5.28,"f":27.4},{"t":"+6.7d","k":"red","v":-5.36,"f":23.8},{"t":"+8.3d","k":"red","v":-7.73,"f":20.8},{"t":"+10.0d","k":"red","v":-8.14,"f":15.9},{"t":"+11.7d","k":"red","v":-7.81,"f":13.2},{"t":"+13.3d","k":"red","v":-8.22,"f":3.9}
],
"ion":[{"t":"H I","v":-7.32,"f":37.2},{"t":"λ4861","v":-3.89,"f":37.2}]
},
"layer":[
{"data":{"name":"black"},"mark":{"type":"line","color":"#000","strokeWidth":1,"clip":true},
 "encoding":{
  "x":{"field":"v","type":"quantitative","scale":{"domain":[-10.5,9.5],"nice":false,"zero":false},
   "axis":{"orient":"bottom","values":[-10,-8,-6,-4,-2,0,2,4,6,8],"labelExpr":"datum.value % 4 === 0 ? datum.label : ''","tickSize":-4,"labelPadding":8,"labelFontSize":11,"title":"Velocity (x 10³ km s⁻¹)","titleFontSize":12,"titlePadding":6}},
  "y":{"field":"f","type":"quantitative","scale":{"domain":[0,39.6],"nice":false,"zero":false},
   "axis":{"orient":"left","values":[4.1,8.35,12.6,16.85,21.1,25.35,29.6,33.85,38.1],"labels":false,"tickSize":-5,"title":"Relative fλ","titleFontSize":15,"titlePadding":4}},
  "detail":{"field":"s"}}},
{"data":{"name":"blue"},"mark":{"type":"line","color":"#3592f0","strokeWidth":1,"clip":true},
 "encoding":{"x":{"field":"v","type":"quantitative","axis":null},"y":{"field":"f","type":"quantitative","axis":null},"detail":{"field":"s"}}},
{"data":{"name":"red"},"mark":{"type":"line","color":"#ff0000","strokeWidth":1.2,"clip":true},
 "encoding":{"x":{"field":"v","type":"quantitative","axis":null},"y":{"field":"f","type":"quantitative","axis":null},"detail":{"field":"s"}}},
{"data":{"name":"labels"},"mark":{"type":"text","font":"DejaVu Serif","fontSize":14,"align":"center","baseline":"middle"},
 "encoding":{"x":{"field":"v","type":"quantitative","axis":{"orient":"top","values":[-10,-8,-6,-4,-2,0,2,4,6,8],"labels":false,"tickSize":-4,"title":null}},
  "y":{"field":"f","type":"quantitative","axis":{"orient":"right","values":[4.1,8.35,12.6,16.85,21.1,25.35,29.6,33.85,38.1],"labels":false,"tickSize":-5,"title":null}},
  "text":{"field":"t"},
  "color":{"field":"k","type":"nominal","scale":{"domain":["black","red","blue"],"range":["#000000","#ff1010","#4a9ff0"]},"legend":null}}},
{"data":{"name":"ion"},"transform":[{"filter":"datum.t === 'H I'"}],"mark":{"type":"text","font":"DejaVu Serif","fontSize":15,"fontWeight":"bold","align":"center","baseline":"middle","color":"#000"},
 "encoding":{"x":{"field":"v","type":"quantitative","axis":null},"y":{"field":"f","type":"quantitative","axis":null},"text":{"field":"t"}}},
{"data":{"name":"ion"},"transform":[{"filter":"datum.t !== 'H I'"}],"mark":{"type":"text","font":"DejaVu Serif","fontSize":15,"align":"center","baseline":"middle","color":"#444"},
 "encoding":{"x":{"field":"v","type":"quantitative","axis":null},"y":{"field":"f","type":"quantitative","axis":null},"text":{"field":"t"}}}
],
"resolve":{"axis":{"x":"independent","y":"independent"}}
}
